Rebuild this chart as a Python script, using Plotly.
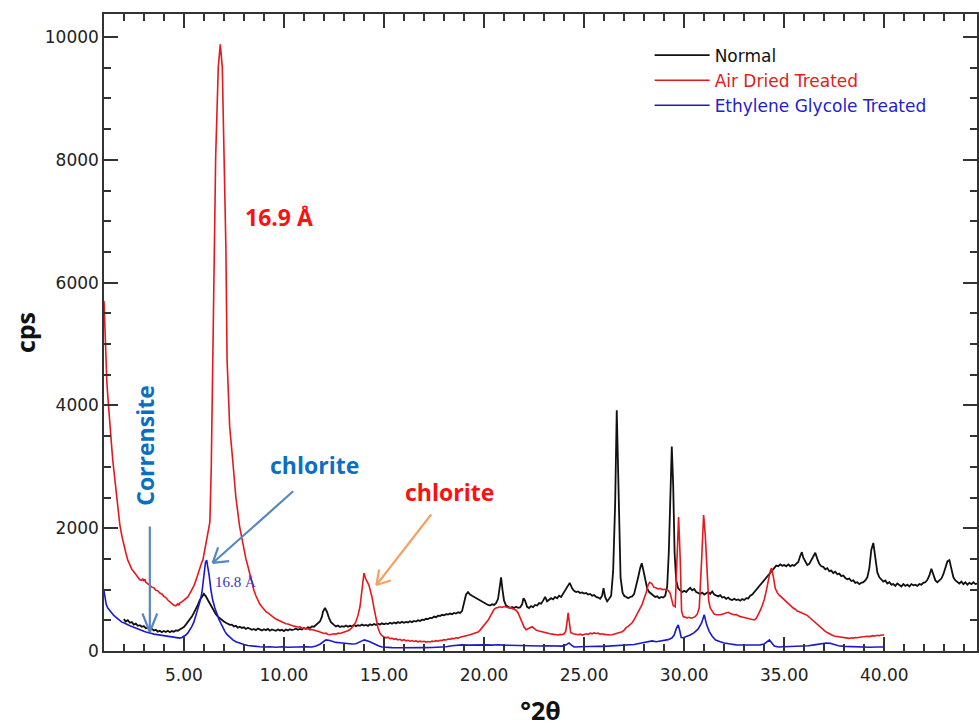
import plotly.graph_objects as go

# ---------------- data ----------------
normal_x = [2.0, 2.1, 2.2, 2.3, 2.4, 2.5, 2.6, 2.7, 2.8, 2.9,
            3.0, 3.1, 3.2, 3.3, 3.4, 3.5, 3.6, 3.7, 3.8, 3.9,
            4.0, 4.1, 4.2, 4.3, 4.4, 4.5, 4.6, 4.7, 4.8, 4.9,
            5.0, 5.1, 5.2, 5.3, 5.4, 5.5, 5.6, 5.7, 5.8, 5.9,
            6.0, 6.05, 6.1, 6.2, 6.3, 6.4, 6.5, 6.6, 6.7, 6.8,
            6.9, 7.0, 7.1, 7.2, 7.3, 7.4, 7.5, 7.6, 7.7, 7.8,
            7.9, 8.0, 8.1, 8.2, 8.3, 8.4, 8.5, 8.6, 8.7, 8.8,
            8.9, 9.0, 9.1, 9.2, 9.3, 9.4, 9.5, 9.6, 9.7, 9.8,
            9.9, 10.0, 10.1, 10.2, 10.3, 10.4, 10.5, 10.6, 10.7, 10.8,
            10.9, 11.0, 11.1, 11.2, 11.3, 11.4, 11.5, 11.6, 11.7, 11.8,
            11.9, 11.95, 12.05, 12.15, 12.25, 12.35, 12.5, 12.6, 12.7, 12.8,
            12.9, 13.0, 13.1, 13.2, 13.3, 13.4, 13.5, 13.6, 13.7, 13.8,
            13.9, 14.0, 14.1, 14.2, 14.3, 14.4, 14.5, 14.6, 14.7, 14.8,
            14.9, 15.0, 15.1, 15.2, 15.3, 15.4, 15.5, 15.6, 15.7, 15.8,
            15.9, 16.0, 16.1, 16.2, 16.3, 16.4, 16.5, 16.6, 16.7, 16.8,
            16.9, 17.0, 17.1, 17.2, 17.3, 17.4, 17.5, 17.6, 17.7, 17.8,
            17.9, 18.0, 18.1, 18.2, 18.3, 18.4, 18.5, 18.6, 18.7, 18.8,
            18.9, 19.0, 19.1, 19.2, 19.3, 19.4, 19.5, 19.6, 19.7, 19.8,
            19.9, 20.0, 20.1, 20.2, 20.3, 20.4, 20.5, 20.6, 20.7, 20.78,
            20.85, 20.92, 21.0, 21.1, 21.2, 21.3, 21.4, 21.5, 21.6, 21.7,
            21.8, 21.9, 21.97, 22.05, 22.15, 22.25, 22.35, 22.45, 22.55, 22.65,
            22.75, 22.85, 22.95, 23.05, 23.15, 23.25, 23.35, 23.45, 23.55, 23.65,
            23.75, 23.85, 23.95, 24.05, 24.15, 24.28, 24.4, 24.5, 24.6, 24.7,
            24.8, 24.9, 25.0, 25.1, 25.2, 25.3, 25.4, 25.5, 25.6, 25.7,
            25.8, 25.9, 25.97, 26.05, 26.15, 26.25, 26.35, 26.45, 26.55, 26.63,
            26.72, 26.82, 26.92, 27.0, 27.1, 27.2, 27.3, 27.4, 27.5, 27.6,
            27.7, 27.8, 27.88, 27.95, 28.05, 28.15, 28.25, 28.35, 28.45, 28.55,
            28.65, 28.75, 28.85, 28.95, 29.05, 29.15, 29.23, 29.3, 29.38, 29.45,
            29.52, 29.6, 29.7, 29.8, 29.9, 30.0, 30.1, 30.2, 30.3, 30.4,
            30.5, 30.6, 30.7, 30.8, 30.9, 31.0, 31.1, 31.2, 31.3, 31.4,
            31.5, 31.6, 31.7, 31.8, 31.9, 32.0, 32.1, 32.2, 32.3, 32.4,
            32.5, 32.6, 32.7, 32.8, 32.9, 33.0, 33.1, 33.2, 33.3, 33.4,
            33.5, 33.6, 33.7, 33.8, 33.9, 34.0, 34.1, 34.2, 34.3, 34.4,
            34.5, 34.6, 34.7, 34.8, 34.9, 35.0, 35.1, 35.2, 35.3, 35.4,
            35.5, 35.6, 35.7, 35.8, 35.88, 35.95, 36.05, 36.15, 36.25, 36.35,
            36.45, 36.55, 36.65, 36.75, 36.85, 36.95, 37.05, 37.15, 37.25, 37.35,
            37.45, 37.55, 37.65, 37.75, 37.85, 37.95, 38.05, 38.15, 38.25, 38.35,
            38.45, 38.55, 38.65, 38.75, 38.85, 38.95, 39.05, 39.15, 39.25, 39.35,
            39.45, 39.55, 39.65, 39.75, 39.85, 39.95, 40.05, 40.15, 40.25, 40.35,
            40.45, 40.55, 40.65, 40.75, 40.85, 40.95, 41.05, 41.15, 41.25, 41.35,
            41.45, 41.55, 41.65, 41.75, 41.85, 41.95, 42.05, 42.15, 42.25, 42.35,
            42.45, 42.55, 42.65, 42.75, 42.85, 42.95, 43.05, 43.15, 43.25, 43.35,
            43.45, 43.55, 43.65, 43.75, 43.85, 43.95, 44.05, 44.15, 44.25, 44.35,
            44.45, 44.55, 44.65]
normal_y = [520, 480, 500, 460, 470, 430, 445, 410, 420, 395,
            405, 370, 380, 350, 360, 335, 345, 315, 330, 305,
            325, 310, 330, 305, 325, 315, 335, 330, 350, 365,
            390, 430, 470, 520, 560, 620, 680, 750, 830, 880,
            930, 910, 890, 830, 770, 710, 650, 600, 560, 530,
            500, 480, 460, 440, 425, 430, 400, 410, 380, 395,
            375, 385, 360, 380, 365, 345, 360, 340, 365, 345,
            335, 355, 340, 360, 330, 350, 345, 330, 350, 335,
            345, 325, 350, 335, 355, 340, 350, 365, 345, 360,
            350, 375, 360, 385, 375, 400, 395, 420, 440, 480,
            560, 640, 700, 640, 540, 470, 425, 400, 415, 390,
            405, 395, 415, 395, 410, 400, 425, 405, 420, 410,
            430, 415, 425, 410, 435, 420, 440, 425, 445, 430,
            450, 435, 450, 440, 460, 445, 465, 450, 470, 455,
            475, 460, 475, 465, 485, 470, 490, 480, 500, 490,
            510, 505, 525, 520, 540, 535, 560, 550, 575, 570,
            590, 580, 600, 595, 610, 600, 620, 610, 630, 620,
            650, 780, 920, 960, 920, 900, 880, 870, 850, 820,
            800, 780, 770, 750, 740, 760, 750, 780, 850, 1000,
            1200, 1000, 820, 740, 720, 700, 715, 700, 720, 705,
            710, 760, 860, 820, 720, 700, 730, 715, 750, 740,
            780, 770, 820, 880, 810, 830, 860, 840, 880, 860,
            900, 880, 930, 970, 1040, 1110, 1020, 980, 960, 970,
            945, 955, 935, 945, 920, 930, 900, 910, 880, 870,
            850, 900, 1025, 880, 810, 850, 900, 1300, 2400, 3920,
            2400, 1200, 950, 900, 880, 860, 880, 890, 930, 1050,
            1200, 1350, 1430, 1330, 1150, 1020, 960, 930, 900, 880,
            890, 860, 880, 870, 900, 1050, 1600, 2600, 3330, 2700,
            1600, 1150, 1020, 990, 960, 980, 960, 1000, 1030, 990,
            1010, 960, 940, 930, 950, 920, 940, 960, 930, 970,
            920, 900, 890, 910, 870, 880, 850, 870, 840, 830,
            850, 830, 840, 820, 845, 830, 860, 855, 900, 920,
            960, 990, 1040, 1080, 1110, 1150, 1190, 1230, 1270, 1320,
            1360, 1390, 1380, 1410, 1390, 1400, 1380, 1410, 1380, 1400,
            1390, 1420, 1450, 1550, 1610, 1520, 1450, 1400, 1420, 1480,
            1560, 1600, 1500, 1420, 1380, 1370, 1330, 1350, 1300, 1310,
            1270, 1290, 1250, 1260, 1220, 1230, 1190, 1170, 1180, 1140,
            1150, 1110, 1120, 1090, 1110, 1120, 1150, 1200, 1350, 1650,
            1760, 1500, 1280, 1200, 1160, 1130, 1150, 1100, 1120, 1080,
            1090, 1060, 1100, 1070, 1050, 1090, 1060, 1080, 1050, 1090,
            1070, 1080, 1060, 1090, 1080, 1110, 1120, 1160, 1230, 1340,
            1230, 1150, 1120, 1150, 1180, 1250, 1350, 1460, 1480, 1330,
            1200, 1150, 1120, 1100, 1130, 1090, 1120, 1080, 1110, 1090,
            1120, 1090, 1100]

air_x = [1.01, 1.04, 1.07, 1.1, 1.15, 1.2, 1.25, 1.3, 1.35, 1.4,
         1.45, 1.5, 1.55, 1.6, 1.65, 1.7, 1.75, 1.8, 1.9, 2.0,
         2.1, 2.2, 2.3, 2.4, 2.5, 2.6, 2.7, 2.8, 2.9, 2.95,
         3.0, 3.05, 3.1, 3.2, 3.3, 3.4, 3.5, 3.6, 3.7, 3.8,
         3.9, 4.0, 4.1, 4.2, 4.3, 4.4, 4.5, 4.6, 4.7, 4.75,
         4.8, 4.9, 5.0, 5.1, 5.2, 5.3, 5.4, 5.5, 5.6, 5.7,
         5.8, 5.9, 5.95, 6.05, 6.15, 6.22, 6.3, 6.37, 6.45, 6.51,
         6.59, 6.72, 6.82, 6.92, 7.0, 7.1, 7.16, 7.29, 7.44, 7.6,
         7.79, 7.95, 8.1, 8.2, 8.3, 8.4, 8.5, 8.6, 8.7, 8.8,
         8.9, 9.0, 9.1, 9.2, 9.3, 9.4, 9.5, 9.6, 9.7, 9.8,
         9.9, 10.0, 10.1, 10.2, 10.3, 10.4, 10.5, 10.6, 10.7, 10.8,
         10.9, 11.0, 11.1, 11.2, 11.3, 11.4, 11.5, 11.6, 11.7, 11.8,
         11.9, 12.0, 12.1, 12.2, 12.3, 12.4, 12.5, 12.6, 12.7, 12.8,
         12.9, 13.0, 13.1, 13.2, 13.3, 13.4, 13.5, 13.6, 13.7, 13.8,
         13.9, 14.0, 14.08, 14.16, 14.25, 14.32, 14.4, 14.5, 14.6, 14.7,
         14.8, 14.9, 15.0, 15.1, 15.2, 15.3, 15.4, 15.5, 15.6, 15.7,
         15.8, 15.9, 16.0, 16.1, 16.2, 16.3, 16.4, 16.5, 16.6, 16.7,
         16.8, 16.9, 17.0, 17.1, 17.2, 17.3, 17.4, 17.5, 17.6, 17.7,
         17.8, 17.9, 18.0, 18.1, 18.2, 18.3, 18.4, 18.5, 18.6, 18.7,
         18.8, 18.9, 19.0, 19.1, 19.2, 19.3, 19.4, 19.5, 19.6, 19.7,
         19.8, 19.9, 20.0, 20.1, 20.2, 20.3, 20.4, 20.5, 20.6, 20.7,
         20.8, 20.9, 21.0, 21.1, 21.2, 21.3, 21.4, 21.5, 21.6, 21.7,
         21.8, 21.9, 22.0, 22.1, 22.2, 22.3, 22.4, 22.5, 22.6, 22.7,
         22.8, 22.9, 23.0, 23.1, 23.2, 23.3, 23.4, 23.5, 23.6, 23.7,
         23.8, 23.9, 24.0, 24.08, 24.15, 24.2, 24.26, 24.33, 24.45, 24.6,
         24.7, 24.8, 24.9, 25.0, 25.1, 25.2, 25.3, 25.4, 25.5, 25.6,
         25.7, 25.8, 25.9, 26.0, 26.1, 26.2, 26.3, 26.4, 26.5, 26.6,
         26.7, 26.8, 26.9, 27.0, 27.1, 27.2, 27.3, 27.4, 27.5, 27.6,
         27.7, 27.8, 27.9, 28.0, 28.1, 28.2, 28.28, 28.38, 28.48, 28.58,
         28.7, 28.8, 28.9, 29.0, 29.1, 29.2, 29.3, 29.38, 29.45, 29.55,
         29.63, 29.72, 29.8, 29.87, 29.95, 30.05, 30.15, 30.25, 30.35, 30.45,
         30.55, 30.65, 30.75, 30.87, 30.97, 31.05, 31.12, 31.22, 31.3, 31.4,
         31.5, 31.6, 31.7, 31.8, 31.9, 32.0, 32.1, 32.2, 32.3, 32.4,
         32.5, 32.6, 32.7, 32.8, 32.9, 33.0, 33.1, 33.2, 33.3, 33.4,
         33.5, 33.6, 33.7, 33.8, 33.9, 34.0, 34.1, 34.2, 34.3, 34.36,
         34.45, 34.55, 34.65, 34.75, 34.85, 34.95, 35.05, 35.15, 35.25, 35.35,
         35.45, 35.55, 35.65, 35.75, 35.85, 35.95, 36.05, 36.15, 36.25, 36.35,
         36.45, 36.55, 36.65, 36.75, 36.85, 36.95, 37.05, 37.15, 37.25, 37.35,
         37.45, 37.55, 37.65, 37.75, 37.85, 37.95, 38.05, 38.15, 38.25, 38.35,
         38.45, 38.55, 38.65, 38.75, 38.85, 38.95, 39.05, 39.15, 39.25, 39.35,
         39.45, 39.55, 39.65, 39.75, 39.85, 39.99]
air_y = [5700, 5400, 5000, 4750, 4400, 4150, 3900, 3650, 3450, 3300,
         3100, 2950, 2780, 2620, 2480, 2330, 2200, 2060, 1880, 1720,
         1600, 1480, 1400, 1330, 1290, 1240, 1200, 1160, 1150, 1180,
         1140, 1170, 1120, 1100, 1070, 1040, 1030, 990, 980, 945,
         930, 890, 870, 830, 800, 760, 745, 735, 770, 745,
         780, 800, 830, 850, 880, 940, 990, 1060, 1150, 1260,
         1380, 1450, 1480, 1650, 1800, 1950, 2100, 3000, 4740, 6580,
         8050, 9510, 9880, 9510, 8050, 6580, 4740, 3650, 3110, 2500,
         2020, 1720, 1500, 1380, 1250, 1100, 990, 900, 830, 760,
         720, 680, 640, 620, 590, 570, 545, 520, 505, 490,
         470, 465, 445, 440, 425, 420, 405, 400, 390, 395,
         375, 370, 360, 365, 345, 350, 335, 330, 320, 305,
         300, 285, 290, 270, 265, 275, 280, 275, 290, 285,
         295, 300, 310, 330, 350, 380, 420, 480, 580, 720,
         1000, 1270, 1180, 1120, 1070, 980, 880, 700, 520, 380,
         290, 250, 230, 215, 225, 200, 210, 190, 200, 180,
         190, 170, 185, 165, 175, 160, 170, 155, 165, 150,
         160, 150, 158, 145, 155, 148, 160, 155, 168, 160,
         175, 170, 185, 180, 195, 190, 205, 200, 215, 210,
         225, 230, 240, 250, 255, 265, 275, 285, 295, 310,
         340, 380, 420, 460, 500, 560, 620, 680, 700, 715,
         720, 710, 725, 715, 705, 710, 695, 685, 665, 620,
         540, 460, 390, 345, 360, 380, 395, 370, 340, 330,
         320, 310, 305, 295, 290, 280, 275, 270, 265, 260,
         270, 265, 280, 320, 480, 620, 470, 300, 280, 270,
         265, 275, 260, 270, 280, 270, 290, 280, 295, 285,
         290, 275, 280, 270, 265, 270, 260, 265, 275, 285,
         290, 300, 315, 340, 380, 400, 430, 460, 510, 570,
         620, 680, 760, 860, 950, 1080, 1120, 1100, 1040, 1030,
         1010, 1020, 1000, 1005, 990, 985, 940, 800, 740, 720,
         1500, 2180, 1500, 650, 560, 545, 540, 550, 535, 545,
         560, 600, 700, 1480, 2215, 1900, 1480, 830, 700, 640,
         600, 590, 585, 590, 600, 610, 625, 630, 610, 600,
         590, 595, 575, 560, 555, 545, 540, 530, 520, 515,
         505, 530, 590, 660, 740, 840, 980, 1150, 1300, 1350,
         1220, 1020, 950, 910, 880, 850, 810, 790, 750, 720,
         700, 680, 650, 640, 625, 615, 600, 580, 550, 520,
         490, 460, 430, 400, 370, 345, 320, 300, 280, 260,
         250, 240, 235, 225, 220, 215, 210, 215, 205, 215,
         210, 220, 215, 225, 230, 225, 235, 240, 235, 245,
         250, 245, 255, 250, 260, 260]

eg_x = [1.01, 1.04, 1.08, 1.12, 1.2, 1.3, 1.4, 1.5, 1.6, 1.7,
        1.8, 1.9, 2.0, 2.1, 2.2, 2.3, 2.4, 2.5, 2.6, 2.7,
        2.8, 2.9, 3.0, 3.1, 3.2, 3.3, 3.4, 3.5, 3.6, 3.7,
        3.8, 3.9, 4.0, 4.1, 4.2, 4.3, 4.4, 4.5, 4.6, 4.7,
        4.8, 4.9, 5.0, 5.1, 5.2, 5.3, 5.4, 5.5, 5.6, 5.7,
        5.8, 5.9, 6.0, 6.08, 6.14, 6.2, 6.27, 6.35, 6.44, 6.55,
        6.65, 6.75, 6.85, 6.95, 7.05, 7.15, 7.3, 7.45, 7.6, 7.8,
        8.0, 8.2, 8.4, 8.6, 8.8, 9.0, 9.3, 9.6, 9.9, 10.2,
        10.5, 10.8, 11.1, 11.4, 11.6, 11.8, 11.95, 12.1, 12.25, 12.4,
        12.6, 12.8, 13.0, 13.2, 13.4, 13.6, 13.75, 13.9, 14.02, 14.15,
        14.3, 14.45, 14.6, 14.75, 14.9, 15.1, 15.4, 15.8, 16.2, 16.6,
        17.0, 17.4, 17.8, 18.1, 18.4, 18.7, 18.9, 19.2, 19.5, 19.8,
        20.1, 20.4, 20.7, 21.0, 21.3, 21.6, 21.9, 22.2, 22.5, 22.8,
        23.1, 23.4, 23.7, 23.9, 24.1, 24.24, 24.38, 24.5, 24.8, 25.1,
        25.4, 25.7, 26.0, 26.3, 26.6, 26.9, 27.2, 27.5, 27.8, 28.0,
        28.2, 28.4, 28.6, 28.8, 29.0, 29.2, 29.38, 29.5, 29.6, 29.7,
        29.78, 29.85, 29.95, 30.1, 30.3, 30.5, 30.7, 30.87, 31.0, 31.12,
        31.25, 31.4, 31.57, 31.8, 32.0, 32.3, 32.6, 32.9, 33.2, 33.5,
        33.8, 34.0, 34.15, 34.26, 34.38, 34.5, 34.7, 35.0, 35.3, 35.6,
        35.9, 36.2, 36.5, 36.8, 37.1, 37.3, 37.5, 37.7, 38.0, 38.3,
        38.6, 39.0, 39.3, 39.6, 39.99]
eg_y = [980, 900, 820, 760, 700, 660, 610, 580, 550, 520,
        500, 470, 460, 440, 430, 410, 400, 385, 370, 360,
        345, 335, 320, 310, 305, 290, 285, 275, 270, 260,
        255, 250, 240, 235, 230, 225, 220, 215, 210, 215,
        210, 220, 235, 260, 295, 340, 400, 470, 570, 680,
        800, 945, 1270, 1440, 1480, 1380, 1220, 1000, 830, 700,
        600, 520, 450, 380, 320, 270, 220, 180, 150, 125,
        105, 90, 80, 72, 68, 65, 70, 62, 68, 60,
        65, 60, 68, 65, 80, 110, 150, 180, 175, 155,
        140, 135, 125, 120, 115, 118, 135, 165, 180, 170,
        150, 125, 100, 80, 65, 58, 55, 52, 50, 52,
        55, 58, 62, 70, 85, 95, 100, 95, 100, 95,
        100, 95, 102, 95, 92, 88, 85, 82, 85, 82,
        86, 80, 84, 80, 100, 130, 90, 65, 70, 75,
        72, 78, 75, 80, 82, 90, 95, 105, 125, 140,
        160, 165, 150, 160, 170, 185, 210, 260, 360, 425,
        330, 220, 215, 235, 260, 300, 360, 456, 590, 430,
        320, 240, 180, 150, 130, 115, 100, 98, 95, 98,
        100, 115, 150, 180, 130, 80, 65, 68, 70, 75,
        78, 85, 100, 115, 130, 125, 105, 85, 75, 70,
        68, 65, 62, 65, 65]

for _xs, _ys in [(normal_x, normal_y), (air_x, air_y), (eg_x, eg_y)]:
    assert len(_xs) == len(_ys), (len(_xs), len(_ys))

series_names = ["Normal",
                "<span style='color:#e02020'>Air Dried Treated</span>",
                "<span style='color:#2222cc'>Ethylene Glycole Treated</span>"]
series_colors = ["#111111", "#e3191e", "#1a1acc"]
series_widths = [1.8, 1.6, 1.6]

y_ticks = [0, 2000, 4000, 6000, 8000, 10000]
y_tick_text = ["0", "2000", "4000", "6000", "8000", "10000"]

# ---------------- figure ----------------
fig = go.Figure()
for xs, ys, nm, col, w in [(normal_x, normal_y, series_names[0], series_colors[0], series_widths[0]),
                           (air_x, air_y, series_names[1], series_colors[1], series_widths[1]),
                           (eg_x, eg_y, series_names[2], series_colors[2], series_widths[2])]:
    fig.add_trace(go.Scatter(x=xs, y=ys, name=nm, mode="lines",
                             line=dict(color=col, width=w)))

axis_common = dict(showline=True, linecolor="#333333", linewidth=1.5, mirror="ticks",
                   ticks="inside", tickcolor="#333333", tickwidth=1.5, ticklen=14,
                   showgrid=False, zeroline=False,
                   tickfont=dict(family="DejaVu Sans", size=17, color="#222222"))

fig.update_xaxes(range=[1.01, 44.63], tick0=0, dtick=5, tickformat=".2f",
                 minor=dict(dtick=1, ticks="inside", ticklen=7, tickcolor="#333333", tickwidth=1.5),
                 title=dict(text="<b>°2θ</b>", font=dict(family="Open Sans", size=25, color="#111111"), standoff=18),
                 ticklabelstandoff=8, **axis_common)
fig.update_yaxes(range=[0, 10375], tickvals=y_ticks, ticktext=y_tick_text,
                 minor=dict(dtick=500, ticks="inside", ticklen=7, tickcolor="#333333", tickwidth=1.5),
                 title=dict(text="<b>cps</b>", font=dict(family="Open Sans", size=25, color="#111111"), standoff=2),
                 **axis_common)

blue_txt = "#0a6fc2"
arrow_blue = "#5a86c0"
arrow_orange = "#f2a362"
ann = []
ann.append(dict(x=9.73, y=7070, text="<b>16.9 Å</b>", showarrow=False,
                font=dict(family="Open Sans", size=23, color="#ff1010")))
ann.append(dict(x=11.53, y=3030, text="<b>chlorite</b>", showarrow=False,
                font=dict(family="Open Sans", size=23, color=blue_txt)))
ann.append(dict(x=18.26, y=2590, text="<b>chlorite</b>", showarrow=False,
                font=dict(family="Open Sans", size=23, color="#ff1010")))
ann.append(dict(x=3.05, y=3356, text="<b>Corrensite</b>", showarrow=False, textangle=-90,
                font=dict(family="Open Sans", size=23, color=blue_txt)))
ann.append(dict(x=7.59, y=1124, text="16.8 Å", showarrow=False,
                font=dict(family="Liberation Serif", size=15, color="#3535c8")))

# arrows: main shaft + two chevron arms, each from a pixel offset to the tip
def arrow(tx, ty, shaft, arms, color):
    out = []
    for ax_, ay_ in [shaft] + arms:
        out.append(dict(x=tx, y=ty, ax=ax_, ay=ay_, text="", showarrow=True, arrowhead=0,
                        arrowwidth=2.2, arrowcolor=color, standoff=0, startstandoff=0))
    return out

ann += arrow(6.44, 1434, (82, -73), [(18, -2), (6, -17)], arrow_blue)
ann += arrow(3.30, 310, (0, -107), [(-8, -20), (8, -20)], arrow_blue)
ann += arrow(14.62, 1075, (56, -72), [(16, -5), (3, -17)], arrow_orange)

fig.update_layout(
    width=979, height=728,
    margin=dict(l=104, r=0, t=14, b=77),
    paper_bgcolor="white", plot_bgcolor="white",
    annotations=ann,
    legend=dict(x=0.625, y=0.963, xanchor="left", yanchor="top", bgcolor="rgba(0,0,0,0)",
                font=dict(family="DejaVu Sans", size=17, color="#111111"), itemwidth=55,
                tracegroupgap=0),
    showlegend=True,
)

fig.write_html("out.html")
